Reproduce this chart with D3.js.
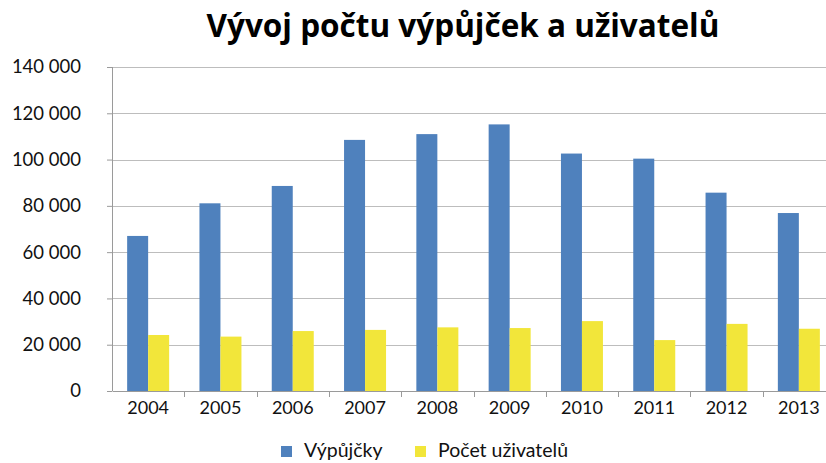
<!DOCTYPE html>
<html>
<head>
<meta charset="utf-8">
<script src="https://cdn.jsdelivr.net/npm/d3@7"></script>
<style>
  body { margin: 0; background: #fff; }
  svg { display: block; }
</style>
</head>
<body>
<div id="chart"></div>
<script>
var title = "Vývoj počtu výpůjček a uživatelů";
var years = ["2004", "2005", "2006", "2007", "2008", "2009", "2010", "2011", "2012", "2013"];
var seriesNames = ["Výpůjčky", "Počet uživatelů"];
var vypujcky = [67000, 81100, 88600, 108500, 111000, 115200, 102600, 100400, 85700, 76900];
var uzivatele = [24200, 23500, 25900, 26400, 27500, 27200, 30200, 22000, 29000, 26900];
var yTicks = [0, 20000, 40000, 60000, 80000, 100000, 120000, 140000];
var colors = ["#4f81bd", "#f2e63a"];

var width = 826, height = 463;
var margin = {top: 67, right: -9, bottom: 72, left: 112};
var innerW = width - margin.left - margin.right,
    innerH = height - margin.top - margin.bottom;

var svg = d3.select("#chart").append("svg")
    .attr("width", width)
    .attr("height", height);

svg.append("text")
    .attr("x", 463)
    .attr("y", 37)
    .attr("text-anchor", "middle")
    .attr("font-family", "'Open Sans', sans-serif")
    .attr("font-weight", "bold")
    .attr("font-size", 31.5)
    .attr("fill", "#000")
    .text(title);

var g = svg.append("g").attr("transform", "translate(" + margin.left + "," + margin.top + ")");

var x0 = d3.scaleBand().domain(years).range([0, innerW]).paddingInner(0).paddingOuter(0);
var x1 = d3.scaleBand().domain(seriesNames).range([0, 42]);
var y = d3.scaleLinear().domain([0, 140000]).range([innerH, 0]);

var fmt = function(v) { return d3.format(",")(v).replace(/,/g, " "); };

// gridlines
g.append("g")
    .selectAll("line")
    .data(yTicks.slice(1))
    .enter().append("line")
        .attr("x1", 0)
        .attr("x2", innerW)
        .attr("y1", function(d) { return Math.round(y(d)) + 0.5; })
        .attr("y2", function(d) { return Math.round(y(d)) + 0.5; })
        .attr("stroke", "#bdbdbd")
        .attr("stroke-width", 1);

var rows = years.map(function(yr, i) {
    return {year: yr, values: [vypujcky[i], uzivatele[i]]};
});

g.append("g")
    .selectAll("g")
    .data(rows)
    .enter().append("g")
        .attr("transform", function(d) {
            return "translate(" + (x0(d.year) + x0.bandwidth() / 2 - 21) + ",0)";
        })
    .selectAll("rect")
    .data(function(d) {
        return d.values.map(function(v, i) { return {key: seriesNames[i], value: v, i: i}; });
    })
    .enter().append("rect")
        .attr("x", function(d) { return x1(d.key); })
        .attr("y", function(d) { return y(d.value); })
        .attr("width", x1.bandwidth())
        .attr("height", function(d) { return innerH - y(d.value); })
        .attr("fill", function(d) { return colors[d.i]; });

// y axis
var yAxis = g.append("g")
    .call(d3.axisLeft(y).tickValues(yTicks).tickFormat(fmt).tickSize(5).tickPadding(26));
yAxis.select(".domain").attr("stroke", "#9a9a9a").attr("d", "M0.5," + innerH + "V0");
yAxis.selectAll(".tick line").attr("stroke", "#9a9a9a").attr("x2", -0).attr("x1", -5);
yAxis.selectAll("text")
    .attr("font-family", "Lato, sans-serif")
    .attr("font-size", 18.5)
    .attr("fill", "#111");

// x axis
var xAxis = g.append("g")
    .attr("transform", "translate(0," + innerH + ")")
    .call(d3.axisBottom(x0).tickSize(0).tickPadding(10));
xAxis.select(".domain").attr("stroke", "#9a9a9a");
xAxis.selectAll("text")
    .attr("font-family", "Lato, sans-serif")
    .attr("font-size", 18)
    .attr("fill", "#111");
xAxis.append("g")
    .selectAll("line")
    .data(years)
    .enter().append("line")
        .attr("x1", function(d) { return Math.round(x0(d) + x0.bandwidth()) + 0.5; })
        .attr("x2", function(d) { return Math.round(x0(d) + x0.bandwidth()) + 0.5; })
        .attr("y1", 0)
        .attr("y2", 6)
        .attr("stroke", "#9a9a9a");

// legend
var legend = svg.append("g")
    .attr("font-family", "Lato, sans-serif")
    .attr("font-size", 19.5)
    .selectAll("g")
    .data(seriesNames)
    .enter().append("g")
        .attr("transform", function(d, i) { return "translate(" + [281, 415][i] + ",446)"; });

legend.append("rect")
    .attr("width", 11)
    .attr("height", 11)
    .attr("fill", function(d, i) { return colors[i]; });

legend.append("text")
    .attr("x", 23)
    .attr("y", 11)
    .attr("fill", "#111")
    .text(function(d) { return d; });
</script>
</body>
</html>
